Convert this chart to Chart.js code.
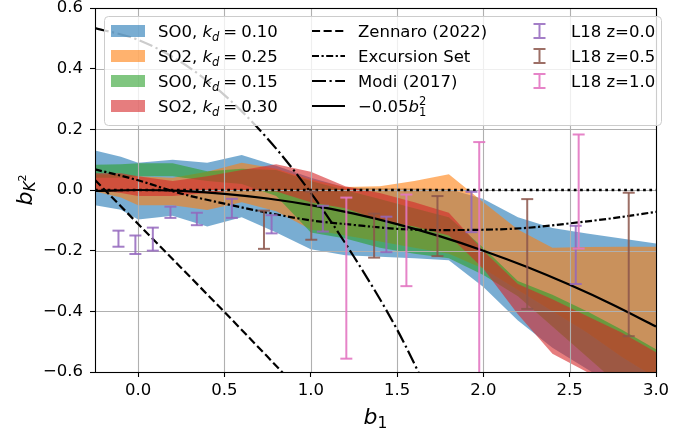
<!DOCTYPE html>
<html>
<head>
<meta charset="utf-8">
<script src="https://cdn.jsdelivr.net/npm/chart.js@4.4.0/dist/chart.umd.min.js"></script>
<style>
  html, body { margin: 0; padding: 0; background: #fff; }
  #wrap { width: 699px; height: 438px; }
</style>
</head>
<body>
<div id="wrap"><canvas id="bk2_chart" width="699" height="438"></canvas></div>
<script>
// b1 grid the simulation bands are sampled on
const band_b1 = [-0.25, -0.1, 0.0, 0.2, 0.4, 0.6, 0.8, 1.0, 1.2, 1.4, 1.6, 1.8, 2.0, 2.2, 2.4, 2.6, 2.8, 3.0];

// SO0, kd = 0.10
const so0_k010_lo = [-0.05, -0.065, -0.097, -0.085, -0.12, -0.09, -0.14, -0.195, -0.215, -0.22, -0.225, -0.232, -0.32, -0.43, -0.52, -0.59, -0.66, -0.72];
const so0_k010_hi = [0.13, 0.11, 0.09, 0.1, 0.09, 0.115, 0.08, 0.04, 0.008, 0.006, 0.005, 0.003, -0.03, -0.09, -0.125, -0.143, -0.16, -0.176];
// SO2, kd = 0.25
const so2_k025_lo = [-0.005, -0.025, -0.05, -0.05, -0.066, -0.04, -0.07, -0.13, -0.15, -0.17, -0.19, -0.21, -0.26, -0.33, -0.40, -0.47, -0.55, -0.62];
const so2_k025_hi = [0.05, 0.05, 0.045, 0.04, 0.06, 0.09, 0.07, 0.035, 0.01, 0.012, 0.03, 0.052, -0.04, -0.13, -0.19, -0.188, -0.187, -0.187];
// SO0, kd = 0.15
const so0_k015_lo = [0.04, 0.04, 0.045, 0.045, 0.03, 0.02, -0.02, -0.14, -0.16, -0.19, -0.21, -0.225, -0.28, -0.35, -0.45, -0.55, -0.65, -0.75];
const so0_k015_hi = [0.083, 0.085, 0.088, 0.088, 0.062, 0.07, 0.066, 0.03, 0.0, -0.03, -0.06, -0.09, -0.19, -0.30, -0.345, -0.40, -0.46, -0.525];
// SO2, kd = 0.30
const so2_k030_lo = [0.0, -0.01, -0.02, -0.02, -0.01, 0.0, -0.005, -0.04, -0.06, -0.1, -0.12, -0.15, -0.26, -0.41, -0.54, -0.6, -0.68, -0.76];
const so2_k030_hi = [0.055, 0.055, 0.045, 0.03, 0.045, 0.066, 0.085, 0.06, 0.012, -0.01, -0.04, -0.075, -0.2, -0.31, -0.36, -0.415, -0.47, -0.535];

// theory curves
const zennaro_b1 = [-0.25, 0.0, 0.25, 0.5, 0.75, 0.9];
const zennaro_bk2 = [0.033, -0.112, -0.257, -0.402, -0.55, -0.64];
const excursion_b1 = [-0.25, 0.0, 0.25, 0.5, 0.75, 1.0, 1.25, 1.5, 1.75, 2.0, 2.25, 2.5, 2.75, 3.0];
const excursion_bk2 = [0.068, 0.032, -0.012, -0.045, -0.075, -0.1, -0.115, -0.128, -0.132, -0.131, -0.125, -0.11, -0.093, -0.072];
const modi_b1 = [-0.25, 0.0, 0.25, 0.5, 0.75, 1.0, 1.25, 1.5, 1.7];
const modi_bk2 = [0.534, 0.495, 0.421, 0.313, 0.169, -0.009, -0.22, -0.46, -0.69];
const quad_b1 = [-0.25, 0.0, 0.25, 0.5, 0.75, 1.0, 1.25, 1.5, 1.75, 2.0, 2.25, 2.5, 2.75, 3.0];
const quad_bk2 = [-0.003, 0.0, -0.003, -0.0125, -0.028, -0.05, -0.078, -0.1125, -0.153, -0.2, -0.253, -0.3125, -0.378, -0.45];
const zero_b1 = [-0.25, 3.0];
const zero_bk2 = [0.0, 0.0];

// L18 measurements (error bar ends)
const l18_z00_b1 = [-0.114, -0.016, 0.085, 0.187, 0.34, 0.543, 0.773, 1.07, 1.438, 1.931, 2.535];
const l18_z00_lo = [-0.187, -0.211, -0.200, -0.092, -0.116, -0.092, -0.143, -0.137, -0.205, -0.139, -0.310];
const l18_z00_hi = [-0.134, -0.150, -0.124, -0.055, -0.075, -0.029, -0.083, -0.052, -0.088, -0.006, -0.118];
const l18_z05_b1 = [0.729, 1.003, 1.367, 1.734, 2.254, 2.842];
const l18_z05_lo = [-0.194, -0.164, -0.223, -0.218, -0.392, -0.482];
const l18_z05_hi = [-0.068, -0.005, -0.078, -0.02, -0.030, -0.009];
const l18_z10_b1 = [1.206, 1.554, 1.976, 2.552];
const l18_z10_lo = [-0.556, -0.317, -0.75, -0.193];
const l18_z10_hi = [-0.025, -0.015, 0.158, 0.183];

const xTicks = [0.0, 0.5, 1.0, 1.5, 2.0, 2.5, 3.0];
const yTicks = [-0.6, -0.4, -0.2, 0.0, 0.2, 0.4, 0.6];

const FONT = '"DejaVu Sans", sans-serif';
const LW = 2.2;

function pts(xs, ys){
	return xs.map((x, i) => ({x: x, y: ys[i]}));
}

function barPts(xs, lo, hi){
	let out = [];
	xs.forEach((x, i) => {
		out.push({x: x, y: lo[i]}, {x: x, y: hi[i]}, {x: x, y: null});
	});
	return out;
}

function band(lo, hi, color){
	return [
		{ data: pts(band_b1, lo), borderWidth: 0, pointRadius: 0, fill: false, tension: 0, clip: 0 },
		{ data: pts(band_b1, hi), borderWidth: 0, pointRadius: 0, fill: '-1', backgroundColor: color, tension: 0, clip: 0 }
	];
}

function curve(xs, ys, dash, smooth, width){
	return {
		data: pts(xs, ys), borderColor: '#000', borderWidth: width || LW, borderDash: dash,
		pointRadius: 0, fill: false, cubicInterpolationMode: smooth ? 'monotone' : 'default', tension: 0, clip: 0
	};
}

function errBars(xs, lo, hi, color){
	return {
		data: barPts(xs, lo, hi), borderColor: color, borderWidth: 2, spanGaps: false,
		pointStyle: 'line', pointRadius: 6, pointBorderWidth: 2, pointBorderColor: color,
		pointBackgroundColor: color, fill: false, clip: 0
	};
}

const colBlue = 'rgba(31,119,180,0.6)';
const colOrange = 'rgba(255,127,14,0.6)';
const colGreen = 'rgba(44,160,44,0.6)';
const colRed = 'rgba(214,39,40,0.6)';
const colPurple = 'rgba(148,103,189,0.85)';
const colBrown = 'rgba(140,86,75,0.85)';
const colPink = 'rgba(227,119,194,0.9)';

const dashed = [8.1, 3.5];
const dashdot = [14, 3.5, 2.2, 3.5];
const denseDashdot = [7, 2.5, 2.2, 2.5];

let datasets = [].concat(
	band(so0_k010_lo, so0_k010_hi, colBlue),
	band(so2_k025_lo, so2_k025_hi, colOrange),
	band(so0_k015_lo, so0_k015_hi, colGreen),
	band(so2_k030_lo, so2_k030_hi, colRed),
	[
		curve(zero_b1, zero_bk2, [2.7, 3.6], false, 2.7),
		curve(zennaro_b1, zennaro_bk2, dashed, false),
		curve(excursion_b1, excursion_bk2, denseDashdot, true),
		curve(modi_b1, modi_bk2, dashdot, true),
		curve(quad_b1, quad_bk2, [], true),
		errBars(l18_z00_b1, l18_z00_lo, l18_z00_hi, colPurple),
		errBars(l18_z05_b1, l18_z05_lo, l18_z05_hi, colBrown),
		errBars(l18_z10_b1, l18_z10_lo, l18_z10_hi, colPink)
	]
);
// draw in array order (first = bottom)
datasets.forEach((d, i) => { d.order = 100 - i; });
const LAST_BAND = 7;

// grid sits above the bands but under the lines, like matplotlib
const gridBetween = {
	id: 'gridBetween',
	afterDatasetDraw(chart, args){
		if(args.index !== LAST_BAND) return;
		const ctx = chart.ctx, a = chart.chartArea;
		const xs = chart.scales.x, ys = chart.scales.y;
		ctx.save();
		ctx.strokeStyle = '#b0b0b0';
		ctx.lineWidth = 1.1;
		xTicks.forEach(v => {
			let px = Math.round(xs.getPixelForValue(v)) + 0.5;
			ctx.beginPath(); ctx.moveTo(px, a.top); ctx.lineTo(px, a.bottom); ctx.stroke();
		});
		yTicks.forEach(v => {
			let py = Math.round(ys.getPixelForValue(v)) + 0.5;
			ctx.beginPath(); ctx.moveTo(a.left, py); ctx.lineTo(a.right, py); ctx.stroke();
		});
		ctx.restore();
	}
};

function drawMath(ctx, parts, x, y, align){
	let w = 0;
	parts.forEach(p => {
		ctx.font = p.font;
		p.w = ctx.measureText(p.t).width;
		if(!p.stack) w += p.w + (p.gap || 0);
	});
	let cx = align === 'center' ? x - w / 2 : x;
	ctx.textBaseline = 'alphabetic';
	ctx.textAlign = 'left';
	parts.forEach(p => {
		ctx.font = p.font;
		ctx.fillText(p.t, cx, y + (p.dy || 0));
		if(!p.stack) cx += p.w + (p.gap || 0);
	});
}

const frameAndText = {
	id: 'frameAndText',
	afterDraw(chart){
		const ctx = chart.ctx, a = chart.chartArea;
		ctx.save();
		// spines
		ctx.strokeStyle = '#000';
		ctx.lineWidth = 1.1;
		ctx.strokeRect(Math.round(a.left) + 0.5, Math.round(a.top) + 0.5, Math.round(a.right - a.left), Math.round(a.bottom - a.top));

		ctx.fillStyle = '#000';
		// x axis label b_1
		drawMath(ctx, [
			{t: 'b', font: 'italic 22px ' + FONT},
			{t: '1', font: '15.5px ' + FONT, dy: 4}
		], (a.left + a.right) / 2, 424, 'center');
		// y axis label b_{K^2}
		ctx.save();
		ctx.translate(32, (a.top + a.bottom) / 2);
		ctx.rotate(-Math.PI / 2);
		drawMath(ctx, [
			{t: 'b', font: 'italic 22px ' + FONT},
			{t: 'K', font: 'italic 15.5px ' + FONT, dy: 3},
			{t: '2', font: '11px ' + FONT, dy: -6}
		], 0, 0, 'center');
		ctx.restore();

		// legend
		const lx = 104.5, ly = 16.5, lw = 557, lh = 109;
		ctx.beginPath();
		ctx.roundRect(lx, ly, lw, lh, 4);
		ctx.fillStyle = 'rgba(255,255,255,0.8)';
		ctx.fill();
		ctx.strokeStyle = '#cccccc';
		ctx.lineWidth = 1;
		ctx.stroke();

		const rows = [31, 56, 81, 106];
		const f = '16.5px ' + FONT, fi = 'italic 16.5px ' + FONT, fs = 'italic 11.5px ' + FONT;
		const bands = [[colBlue, '0', '0.10'], [colOrange, '2', '0.25'], [colGreen, '0', '0.15'], [colRed, '2', '0.30']];
		bands.forEach((b, i) => {
			ctx.fillStyle = b[0];
			ctx.fillRect(111, rows[i] - 6, 34, 12);
			ctx.fillStyle = '#000';
			drawMath(ctx, [
				{t: 'SO' + b[1] + ', ', font: f},
				{t: 'k', font: fi},
				{t: 'd', font: fs, dy: 3.5, gap: 4},
				{t: '=', font: f, gap: 4},
				{t: b[2], font: f}
			], 158, rows[i] + 6);
		});

		const lines = [[dashed, 'Zennaro (2022)'], [denseDashdot, 'Excursion Set'], [dashdot, 'Modi (2017)']];
		ctx.strokeStyle = '#000';
		ctx.lineWidth = LW;
		lines.forEach((l, i) => {
			ctx.setLineDash(l[0]);
			ctx.beginPath(); ctx.moveTo(312, rows[i]); ctx.lineTo(345, rows[i]); ctx.stroke();
			ctx.fillStyle = '#000';
			drawMath(ctx, [{t: l[1], font: f}], 358, rows[i] + 6);
		});
		ctx.setLineDash([]);
		ctx.beginPath(); ctx.moveTo(312, rows[3]); ctx.lineTo(345, rows[3]); ctx.stroke();
		drawMath(ctx, [
			{t: '\u22120.05', font: f},
			{t: 'b', font: fi},
			{t: '1', font: '11.5px ' + FONT, dy: 4, stack: true},
			{t: '2', font: '11.5px ' + FONT, dy: -7}
		], 358, rows[3] + 6);

		const errs = [[colPurple, 'L18 z=0.0'], [colBrown, 'L18 z=0.5'], [colPink, 'L18 z=1.0']];
		errs.forEach((e, i) => {
			const cx = 539.5, y = rows[i];
			ctx.strokeStyle = e[0];
			ctx.lineWidth = 2;
			ctx.beginPath();
			ctx.moveTo(cx, y - 7); ctx.lineTo(cx, y + 7);
			ctx.moveTo(cx - 6, y - 7); ctx.lineTo(cx + 6, y - 7);
			ctx.moveTo(cx - 6, y + 7); ctx.lineTo(cx + 6, y + 7);
			ctx.stroke();
			ctx.fillStyle = '#000';
			drawMath(ctx, [{t: e[1], font: f}], 571, rows[i] + 6);
		});
		ctx.restore();
	}
};

const chart = new Chart(document.getElementById('bk2_chart').getContext('2d'), {
	type: 'line',
	data: { datasets: datasets },
	options: {
		responsive: false,
		animation: false,
		devicePixelRatio: 1,
		layout: { padding: { top: 8, right: 43, left: 0, bottom: 0 } },
		plugins: { legend: { display: false }, tooltip: { enabled: false } },
		scales: {
			x: {
				type: 'linear', min: -0.25, max: 3.0,
				afterBuildTicks: axis => { axis.ticks = xTicks.map(v => ({value: v})); },
				afterFit: axis => { axis.height = 66; axis.paddingLeft = 0; axis.paddingRight = 0; },
				grid: { display: true, drawOnChartArea: false, drawTicks: true, tickLength: 5, tickColor: '#000', tickWidth: 1.1 },
				border: { display: false },
				ticks: { color: '#000', font: { family: FONT, size: 16.5 }, padding: 4, maxRotation: 0,
					callback: v => (v < 0 ? '\u2212' : '') + Math.abs(v).toFixed(1) }
			},
			y: {
				type: 'linear', min: -0.6, max: 0.6,
				afterBuildTicks: axis => { axis.ticks = yTicks.map(v => ({value: v})); },
				afterFit: axis => { axis.width = 95; axis.paddingTop = 0; axis.paddingBottom = 0; },
				grid: { display: true, drawOnChartArea: false, drawTicks: true, tickLength: 5, tickColor: '#000', tickWidth: 1.1 },
				border: { display: false },
				ticks: { color: '#000', font: { family: FONT, size: 16.5 }, padding: 7,
					callback: v => (v < -1e-9 ? '\u2212' : '') + Math.abs(v).toFixed(1) }
			}
		}
	},
	plugins: [gridBetween, frameAndText]
});
</script>
</body>
</html>
